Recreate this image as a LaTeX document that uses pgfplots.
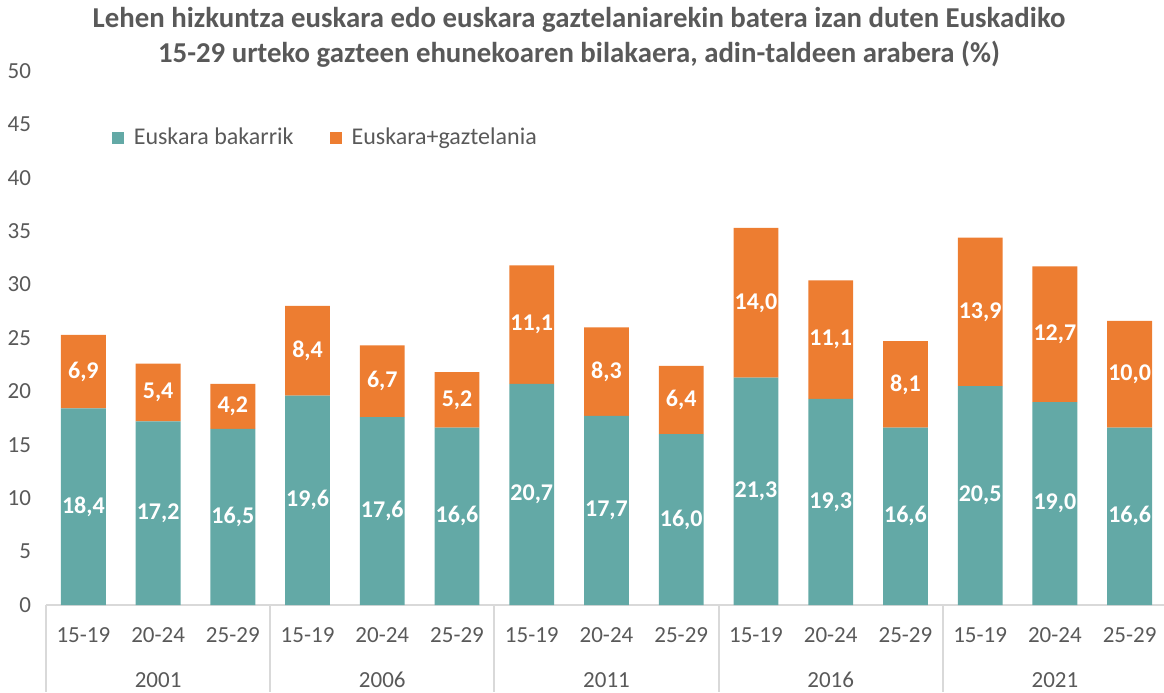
\documentclass[border=0pt]{standalone}
\usepackage{fontspec}
\setmainfont{Carlito}
\usepackage{pgfplots}
\usepackage{pgfplotstable}
\pgfplotsset{compat=1.18}

\definecolor{teal1}{HTML}{63A9A6}
\definecolor{orng}{HTML}{ED7D31}
\definecolor{txt}{HTML}{595959}
\definecolor{axln}{HTML}{D9D9D9}

% x: position, a: Euskara bakarrik, b: Euskara+gaztelania
\pgfplotstableread{
x a b
0 18.4 6.9
1 17.2 5.4
2 16.5 4.2
3 19.6 8.4
4 17.6 6.7
5 16.6 5.2
6 20.7 11.1
7 17.7 8.3
8 16.0 6.4
9 21.3 14.0
10 19.3 11.1
11 16.6 8.1
12 20.5 13.9
13 19.0 12.7
14 16.6 10.0
}\data

\begin{document}
\begin{tikzpicture}
\useasboundingbox (-23pt,-43.5pt) rectangle (559pt,302.5pt);
\begin{axis}[
    at={(0,0)}, anchor=south west,
    scale only axis, width=560.5pt, height=267pt,
    ybar stacked, bar width=0.6,
    xmin=-0.5, xmax=14.5, ymin=0, ymax=50,
    ytick={0,5,...,50},
    xtick={0,...,14},
    xticklabels={15-19,20-24,25-29,15-19,20-24,25-29,15-19,20-24,25-29,15-19,20-24,25-29,15-19,20-24,25-29},
    axis x line*=bottom, axis y line*=left,
    x axis line style={axln, line width=1pt, -},
    y axis line style={draw=none},
    major tick length=0pt,
    tick label style={font=\fontsize{11.5}{13}\selectfont, text=txt},
    xticklabel style={yshift=-8pt},
    yticklabel style={xshift=-4pt},
    /pgf/number format/assume math mode=true,
    clip=false,
    point meta=explicit,
    nodes near coords={\pgfmathprintnumber[use comma, fixed, fixed zerofill, precision=1]{\pgfplotspointmeta}},
    every node near coord/.append style={anchor=center,
        font=\bfseries\fontsize{12}{14}\selectfont, text=white},
    legend style={draw=none, fill=none, at={(rel axis cs:0.053,0.8745)}, anchor=west,
        legend columns=2, font=\fontsize{12}{14}\selectfont, text=txt,
        /tikz/every odd column/.append style={column sep=3pt},
        /tikz/every even column/.append style={column sep=16pt}},
    legend image code/.code={\fill[#1] (0pt,-3pt) rectangle (6pt,3pt);},
]
\addplot[fill=teal1, draw=none] table[x=x, y=a, meta=a]{\data};
\addplot[fill=orng, draw=none] table[x=x, y=b, meta=b]{\data};
\legend{Euskara bakarrik, Euskara+gaztelania}

\foreach \s in {-0.5,2.5,5.5,8.5,11.5,14.5}{
    \edef\tmp{\noexpand\draw[axln, line width=1pt] (axis cs:\s,0) -- ++(0pt,-43.5pt);}
    \tmp
}
\foreach \yr/\xp in {2001/1,2006/4,2011/7,2016/10,2021/13}{
    \edef\tmp{\noexpand\node[font=\noexpand\fontsize{11.5}{13}\noexpand\selectfont, text=txt] at ([yshift=-37.5pt]axis cs:\xp,0) {\yr};}
    \tmp
}
\end{axis}
\node[font=\bfseries\fontsize{14.4}{17.5}\selectfont, text=txt, align=center] at (266.5pt,283.75pt)
    {Lehen hizkuntza euskara edo euskara gaztelaniarekin batera izan duten Euskadiko\\
     15-29 urteko gazteen ehunekoaren bilakaera, adin-taldeen arabera (\%)};
\end{tikzpicture}
\end{document}
